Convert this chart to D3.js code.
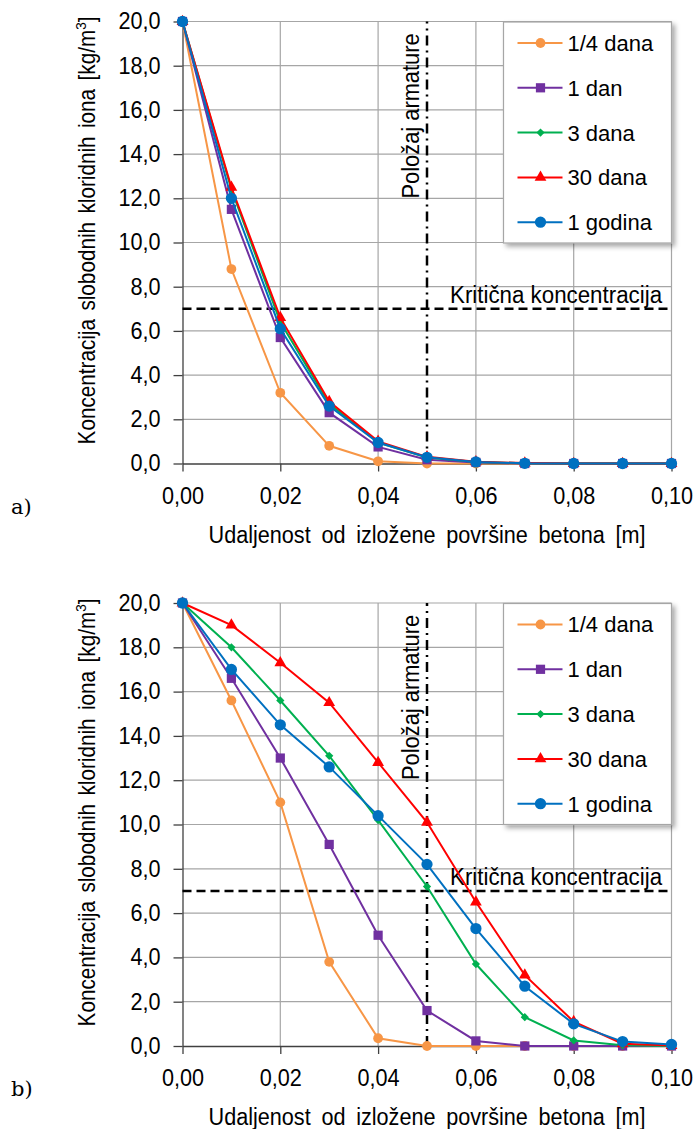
<!DOCTYPE html>
<html>
<head>
<meta charset="utf-8">
<script src="https://cdn.jsdelivr.net/npm/d3@7"></script>
<style>
  body { margin: 0; background: #fff; }
  svg text { font-family: "Liberation Sans", Arial, sans-serif; fill: #000; }
</style>
</head>
<body>
<div id="chart"></div>
<script>
// distance from the exposed surface [m]
var distances = [0, 0.01, 0.02, 0.03, 0.04, 0.05, 0.06, 0.07, 0.08, 0.09, 0.10];
var xTicks = [0, 0.02, 0.04, 0.06, 0.08, 0.10];
var yTicks = [0, 2, 4, 6, 8, 10, 12, 14, 16, 18, 20];

var seriesNames = ["1/4 dana", "1 dan", "3 dana", "30 dana", "1 godina"];
var seriesColors = ["#F79646", "#7030A0", "#00B050", "#FF0000", "#0070C0"];

var criticalConc = 7.0;
var rebarDepth = 0.05;

// panel a)
var aQuarterDay = [20, 8.8, 3.2, 0.8, 0.1, 0.0, 0.0, 0.0, 0.0, 0.0, 0.0];
var aOneDay     = [20, 11.5, 5.7, 2.3, 0.75, 0.17, 0.05, 0.0, 0.0, 0.0, 0.0];
var aThreeDays  = [20, 12.4, 6.4, 2.7, 0.95, 0.27, 0.07, 0.01, 0.0, 0.0, 0.0];
var aThirtyDays = [20, 12.5, 6.6, 2.8, 1.0, 0.3, 0.08, 0.02, 0.0, 0.0, 0.0];
var aOneYear    = [20, 12.0, 6.1, 2.6, 0.95, 0.28, 0.07, 0.01, 0.0, 0.0, 0.0];

// panel b)
var bQuarterDay = [20, 15.6, 11.0, 3.8, 0.35, 0.0, 0.0, 0.0, 0.0, 0.0, 0.0];
var bOneDay     = [20, 16.6, 13.0, 9.1, 5.0, 1.6, 0.23, 0.0, 0.0, 0.0, 0.0];
var bThreeDays  = [20, 18.0, 15.6, 13.1, 10.2, 7.2, 3.7, 1.3, 0.25, 0.03, 0.0];
var bThirtyDays = [20, 19.0, 17.3, 15.5, 12.8, 10.1, 6.5, 3.2, 1.1, 0.1, 0.02];
var bOneYear    = [20, 17.0, 14.5, 12.6, 10.4, 8.2, 5.3, 2.7, 1.0, 0.2, 0.07];

var w = 697, h = 1129;

var svg = d3.select("#chart").append("svg")
  .attr("width", w)
  .attr("height", h);

var defs = svg.append("defs");
var shadow = defs.append("filter").attr("id", "legshadow")
  .attr("x", "-10%").attr("y", "-10%").attr("width", "130%").attr("height", "130%");
shadow.append("feDropShadow")
  .attr("dx", 3).attr("dy", 3).attr("stdDeviation", 2.5)
  .attr("flood-color", "#000").attr("flood-opacity", 0.35);

var loc = d3.formatLocale({decimal: ",", thousands: ".", grouping: [3], currency: ["", ""]});
var fmtY = loc.format(".1f");
var fmtX = loc.format(".2f");

// marker shapes, same order as the series
var markers = [
  {type: d3.symbolCircle, size: 75, rot: 0},
  {type: d3.symbolSquare, size: 85, rot: 0},
  {type: d3.symbolSquare, size: 34, rot: 45},
  {type: d3.symbolTriangle, size: 60, rot: 0},
  {type: d3.symbolCircle, size: 100, rot: 0}
];

var fontSize = 23;
var squeeze = 0.94;   // the original lettering is a bit narrow

// squeeze text horizontally, keeping its anchor
function condense(sel, k) {
  sel.each(function() {
    var len = this.getComputedTextLength();
    d3.select(this)
      .attr("textLength", len * k)
      .attr("lengthAdjust", "spacingAndGlyphs");
  });
}

function drawPanel(top, bottom, label, seriesValues) {
  var g = svg.append("g");

  var x = d3.scaleLinear().domain([0, 0.1]).range([182.5, 671.5]);
  var y = d3.scaleLinear().domain([0, 20]).range([bottom, top]);

  // grid
  g.append("g").selectAll("line")
    .data(yTicks.slice(1))
    .enter().append("line")
    .attr("x1", x(0)).attr("x2", x(0.1))
    .attr("y1", function(d) { return y(d); })
    .attr("y2", function(d) { return y(d); })
    .attr("stroke", "#a6a6a6").attr("stroke-width", 1.2);

  g.append("g").selectAll("line")
    .data(xTicks.slice(1))
    .enter().append("line")
    .attr("x1", function(d) { return x(d); })
    .attr("x2", function(d) { return x(d); })
    .attr("y1", y(0)).attr("y2", y(20))
    .attr("stroke", "#a6a6a6").attr("stroke-width", 1.2);

  // axes
  var yAxis = d3.axisLeft(y).tickValues(yTicks).tickSize(9).tickSizeOuter(0)
    .tickPadding(13).tickFormat(fmtY);
  var yg = g.append("g")
    .attr("transform", "translate(" + x(0) + ",0)")
    .call(yAxis);

  var xAxis = d3.axisBottom(x).tickValues(xTicks).tickSize(8).tickSizeOuter(0)
    .tickPadding(16).tickFormat(fmtX);
  var xg = g.append("g")
    .attr("transform", "translate(0," + y(0) + ")")
    .call(xAxis);

  [yg, xg].forEach(function(a) {
    a.attr("font-family", null).attr("font-size", null);
    a.selectAll("path, line").attr("stroke", "#404040").attr("stroke-width", 1.3);
    a.selectAll("text").style("font-size", fontSize + "px").attr("fill", "#000");
    condense(a.selectAll("text"), squeeze);
  });

  // axis titles
  var xt = g.append("text")
    .attr("x", (x(0) + x(0.1)) / 2)
    .attr("y", y(0) + 79)
    .attr("text-anchor", "middle")
    .attr("word-spacing", 5)
    .style("font-size", fontSize + "px")
    .text("Udaljenost od izložene površine betona [m]");
  condense(xt, squeeze);

  var yt = g.append("text")
    .attr("transform", "translate(95," + ((top + bottom) / 2 - 12) + ") rotate(-90) scale(0.9,1)")
    .attr("text-anchor", "middle")
    .attr("word-spacing", 3)
    .style("font-size", fontSize + "px");
  yt.append("tspan").text("Koncentracija slobodnih kloridnih iona [kg/m");
  yt.append("tspan").attr("dy", -9).style("font-size", "15px").text("3");
  yt.append("tspan").attr("dy", 9).text("]");

  // panel letter
  g.append("text")
    .attr("x", 11)
    .attr("y", y(0) + 50)
    .style("font-family", "'DejaVu Serif', 'Liberation Serif', serif")
    .style("font-size", "21px")
    .text(label);

  // critical concentration line
  g.append("line")
    .attr("x1", x(0)).attr("x2", x(0.1))
    .attr("y1", y(criticalConc)).attr("y2", y(criticalConc))
    .attr("stroke", "#000").attr("stroke-width", 2.5)
    .attr("stroke-dasharray", "9,5");

  var ct = g.append("text")
    .attr("x", 450)
    .attr("y", y(criticalConc) - 6)
    .style("font-size", fontSize + "px")
    .text("Kritična koncentracija");
  condense(ct, 0.97);

  // rebar position line
  g.append("line")
    .attr("x1", x(rebarDepth)).attr("x2", x(rebarDepth))
    .attr("y1", y(0)).attr("y2", y(20))
    .attr("stroke", "#000").attr("stroke-width", 2.5)
    .attr("stroke-dasharray", "10,5,2,5");

  var rt = g.append("text")
    .attr("transform", "translate(" + (x(rebarDepth) - 8) + "," + (top + 177) + ") rotate(-90)")
    .style("font-size", fontSize + "px")
    .text("Položaj armature");
  condense(rt, 0.95);

  // series lines and markers
  var line = d3.line()
    .x(function(d, i) { return x(distances[i]); })
    .y(function(d) { return y(d); });

  seriesValues.forEach(function(vals, s) {
    g.append("path")
      .datum(vals)
      .attr("fill", "none")
      .attr("stroke", seriesColors[s])
      .attr("stroke-width", 2)
      .attr("d", line);

    g.append("g").selectAll("path")
      .data(vals)
      .enter().append("path")
      .attr("d", d3.symbol().type(markers[s].type).size(markers[s].size))
      .attr("transform", function(d, i) {
        return "translate(" + x(distances[i]) + "," + y(d) + ") rotate(" + markers[s].rot + ")";
      })
      .attr("fill", seriesColors[s]);
  });

  // legend
  var leg = g.append("g")
    .attr("transform", "translate(503.5," + (top + 0.5) + ")");

  leg.append("rect")
    .attr("width", 168)
    .attr("height", 221)
    .attr("fill", "#fff")
    .attr("stroke", "#a6a6a6")
    .attr("stroke-width", 1.2)
    .attr("filter", "url(#legshadow)");

  seriesNames.forEach(function(name, s) {
    var row = leg.append("g")
      .attr("transform", "translate(0," + (21 + s * 44.8) + ")");
    row.append("line")
      .attr("x1", 14).attr("x2", 59)
      .attr("stroke", seriesColors[s]).attr("stroke-width", 2);
    row.append("path")
      .attr("d", d3.symbol().type(markers[s].type).size(markers[s].size))
      .attr("transform", "translate(37,0) rotate(" + markers[s].rot + ")")
      .attr("fill", seriesColors[s]);
    row.append("text")
      .attr("x", 64)
      .attr("dy", "0.36em")
      .style("font-size", "22px")
      .text(name);
  });
}

drawPanel(21.5, 463.5, "a)", [aQuarterDay, aOneDay, aThreeDays, aThirtyDays, aOneYear]);
drawPanel(603, 1046, "b)", [bQuarterDay, bOneDay, bThreeDays, bThirtyDays, bOneYear]);
</script>
</body>
</html>
